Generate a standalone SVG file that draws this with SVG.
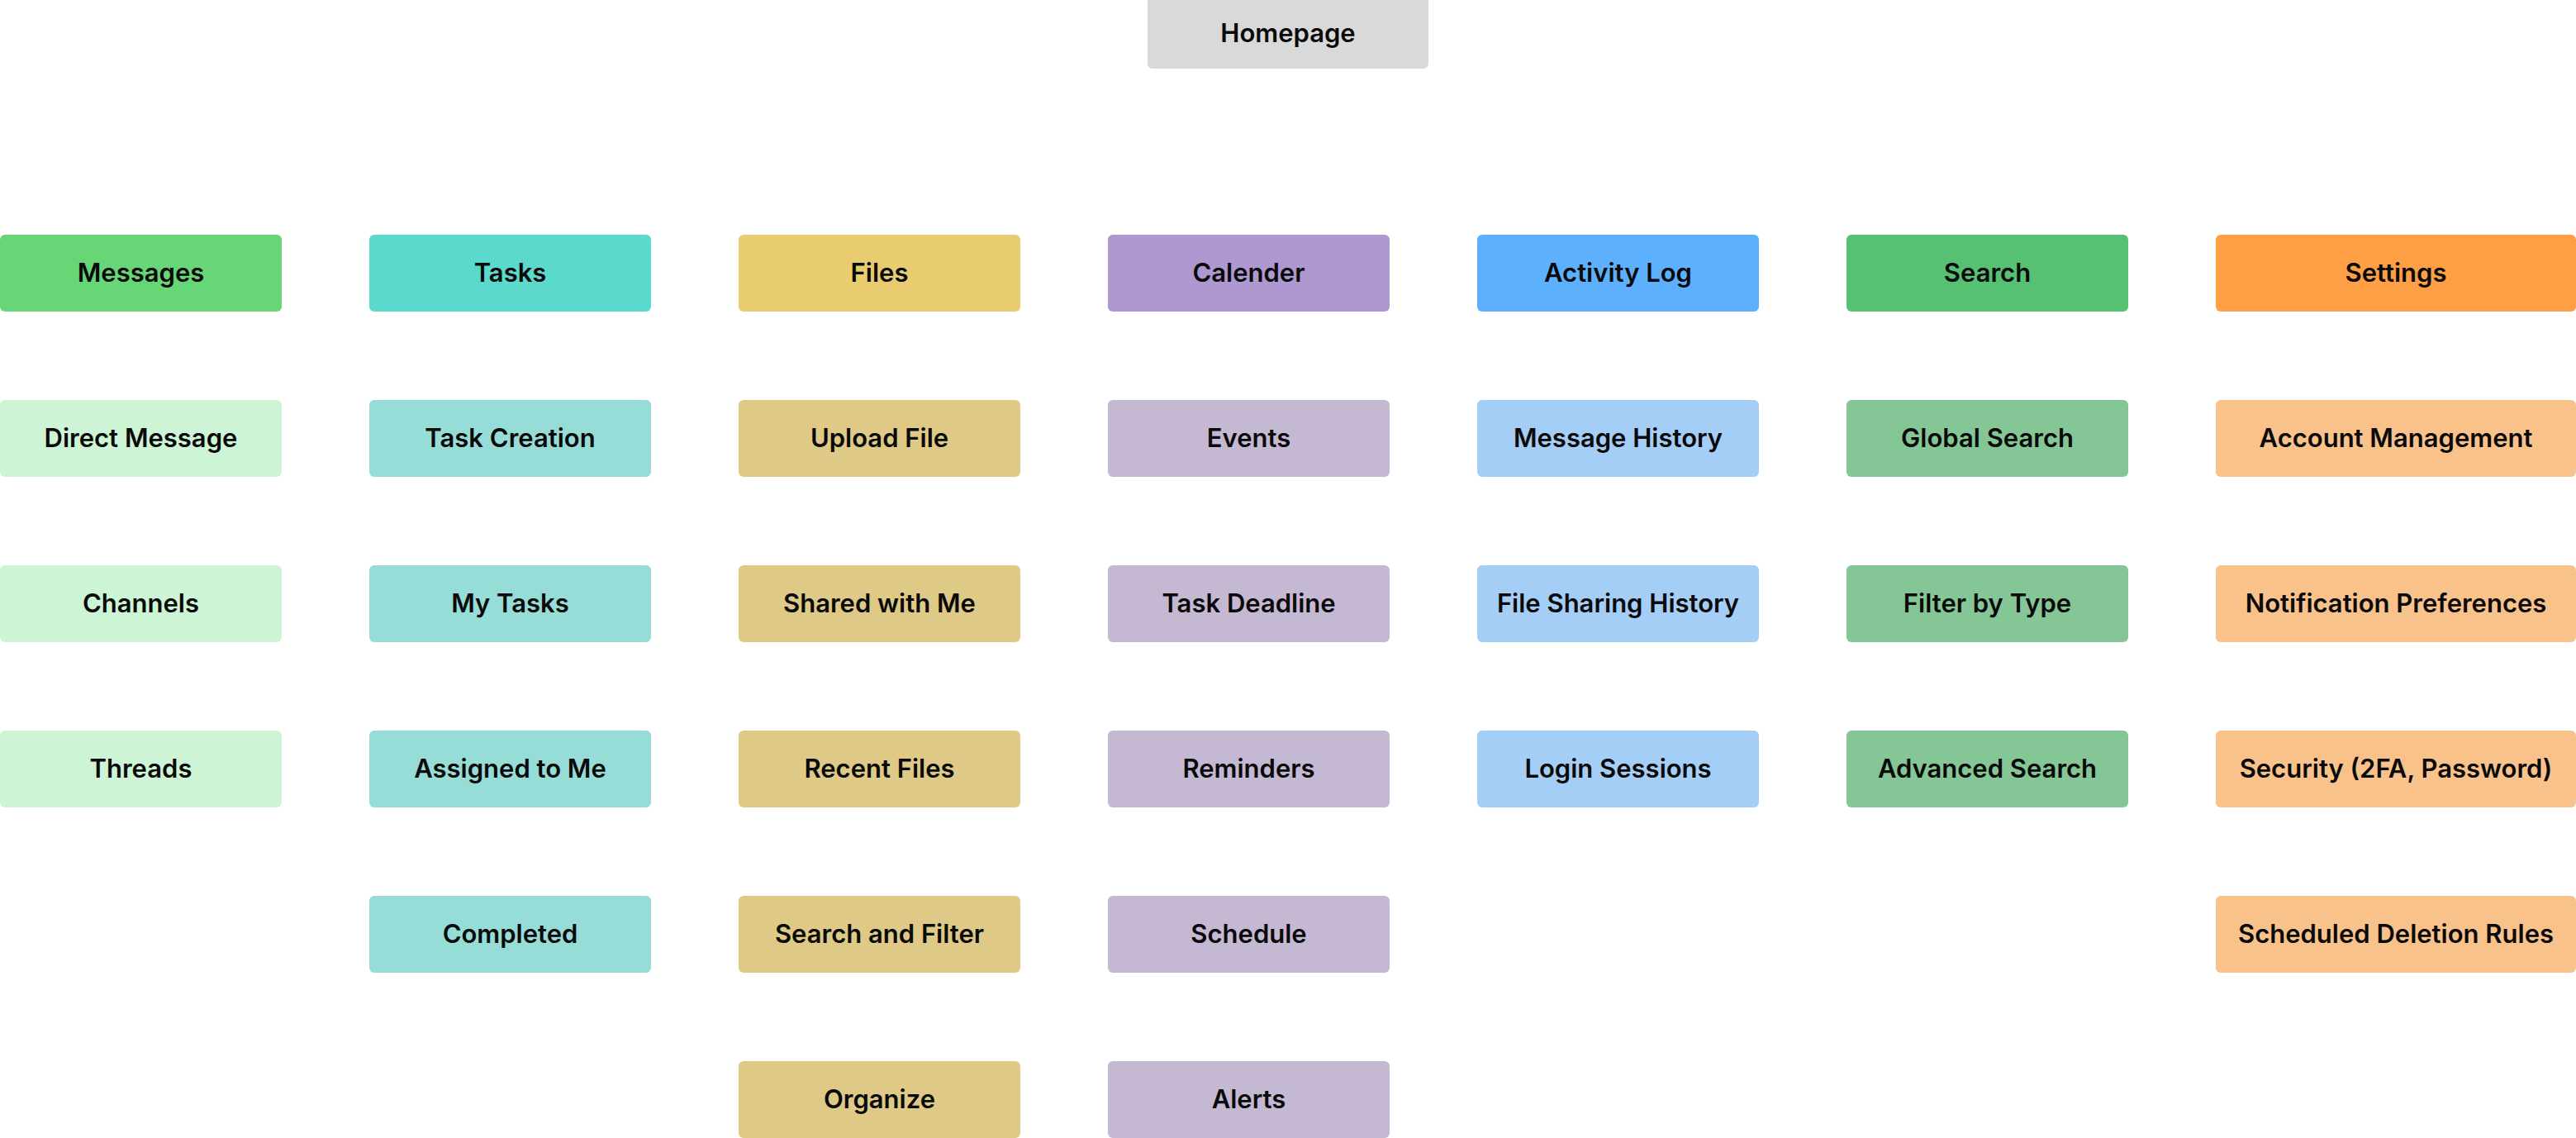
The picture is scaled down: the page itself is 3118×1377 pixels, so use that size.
<svg xmlns="http://www.w3.org/2000/svg" width="3118" height="1377" viewBox="0 0 3118 1377">
<style>
  rect{rx:6px;ry:6px}
  text{font-family:Inter,"Noto Sans","Liberation Sans",sans-serif;font-weight:600;font-size:31px;fill:#0a0a0a;text-anchor:middle;dominant-baseline:central}
  .home{fill:#D9D9D9}
  .m0{fill:#67D677}.m1{fill:#CDF5D5}
  .t0{fill:#5CD9CD}.t1{fill:#96DDD7}
  .f0{fill:#E8CC6F}.f1{fill:#DEC986}
  .c0{fill:#AF97D0}.c1{fill:#C5B8D3}
  .a0{fill:#5CB0FD}.a1{fill:#A4CEF6}
  .s0{fill:#56C172}.s1{fill:#84C695}
  .g0{fill:#FE9F46}.g1{fill:#F9C28B}
</style>
<rect width="3118" height="1377" fill="#ffffff" rx="0" ry="0"/>
<g id="connectors"></g>
<g id="homepage"><rect class="home" x="1389" y="-10" width="340" height="93"/><text x="1559" y="39">Homepage</text></g>

<g id="messages"><rect class="m0" x="0" y="284" width="341" height="93"/><text x="170.5" y="329.5">Messages</text></g>
<g id="direct-message"><rect class="m1" x="0" y="484" width="341" height="93"/><text x="170.5" y="529.5">Direct Message</text></g>
<g id="channels"><rect class="m1" x="0" y="684" width="341" height="93"/><text x="170.5" y="729.5">Channels</text></g>
<g id="threads"><rect class="m1" x="0" y="884" width="341" height="93"/><text x="170.5" y="929.5">Threads</text></g>

<g id="tasks"><rect class="t0" x="447" y="284" width="341" height="93"/><text x="617.5" y="329.5">Tasks</text></g>
<g id="task-creation"><rect class="t1" x="447" y="484" width="341" height="93"/><text x="617.5" y="529.5">Task Creation</text></g>
<g id="my-tasks"><rect class="t1" x="447" y="684" width="341" height="93"/><text x="617.5" y="729.5">My Tasks</text></g>
<g id="assigned-to-me"><rect class="t1" x="447" y="884" width="341" height="93"/><text x="617.5" y="929.5">Assigned to Me</text></g>
<g id="completed"><rect class="t1" x="447" y="1084" width="341" height="93"/><text x="617.5" y="1129.5">Completed</text></g>

<g id="files"><rect class="f0" x="894" y="284" width="341" height="93"/><text x="1064.5" y="329.5">Files</text></g>
<g id="upload-file"><rect class="f1" x="894" y="484" width="341" height="93"/><text x="1064.5" y="529.5">Upload File</text></g>
<g id="shared-with-me"><rect class="f1" x="894" y="684" width="341" height="93"/><text x="1064.5" y="729.5">Shared with Me</text></g>
<g id="recent-files"><rect class="f1" x="894" y="884" width="341" height="93"/><text x="1064.5" y="929.5">Recent Files</text></g>
<g id="search-and-filter"><rect class="f1" x="894" y="1084" width="341" height="93"/><text x="1064.5" y="1129.5">Search and Filter</text></g>
<g id="organize"><rect class="f1" x="894" y="1284" width="341" height="93"/><text x="1064.5" y="1329.5">Organize</text></g>

<g id="calender"><rect class="c0" x="1341" y="284" width="341" height="93"/><text x="1511.5" y="329.5">Calender</text></g>
<g id="events"><rect class="c1" x="1341" y="484" width="341" height="93"/><text x="1511.5" y="529.5">Events</text></g>
<g id="task-deadline"><rect class="c1" x="1341" y="684" width="341" height="93"/><text x="1511.5" y="729.5">Task Deadline</text></g>
<g id="reminders"><rect class="c1" x="1341" y="884" width="341" height="93"/><text x="1511.5" y="929.5">Reminders</text></g>
<g id="schedule"><rect class="c1" x="1341" y="1084" width="341" height="93"/><text x="1511.5" y="1129.5">Schedule</text></g>
<g id="alerts"><rect class="c1" x="1341" y="1284" width="341" height="93"/><text x="1511.5" y="1329.5">Alerts</text></g>

<g id="activity-log"><rect class="a0" x="1788" y="284" width="341" height="93"/><text x="1958.5" y="329.5">Activity Log</text></g>
<g id="message-history"><rect class="a1" x="1788" y="484" width="341" height="93"/><text x="1958.5" y="529.5">Message History</text></g>
<g id="file-sharing-history"><rect class="a1" x="1788" y="684" width="341" height="93"/><text x="1958.5" y="729.5">File Sharing History</text></g>
<g id="login-sessions"><rect class="a1" x="1788" y="884" width="341" height="93"/><text x="1958.5" y="929.5">Login Sessions</text></g>

<g id="search"><rect class="s0" x="2235" y="284" width="341" height="93"/><text x="2405.5" y="329.5">Search</text></g>
<g id="global-search"><rect class="s1" x="2235" y="484" width="341" height="93"/><text x="2405.5" y="529.5">Global Search</text></g>
<g id="filter-by-type"><rect class="s1" x="2235" y="684" width="341" height="93"/><text x="2405.5" y="729.5">Filter by Type</text></g>
<g id="advanced-search"><rect class="s1" x="2235" y="884" width="341" height="93"/><text x="2405.5" y="929.5">Advanced Search</text></g>

<g id="settings"><rect class="g0" x="2682" y="284" width="436" height="93"/><text x="2900" y="329.5">Settings</text></g>
<g id="account-management"><rect class="g1" x="2682" y="484" width="436" height="93"/><text x="2900" y="529.5">Account Management</text></g>
<g id="notification-preferences"><rect class="g1" x="2682" y="684" width="436" height="93"/><text x="2900" y="729.5">Notification Preferences</text></g>
<g id="security"><rect class="g1" x="2682" y="884" width="436" height="93"/><text x="2900" y="929.5">Security (2FA, Password)</text></g>
<g id="scheduled-deletion-rules"><rect class="g1" x="2682" y="1084" width="436" height="93"/><text x="2900" y="1129.5">Scheduled Deletion Rules</text></g>
</svg>
